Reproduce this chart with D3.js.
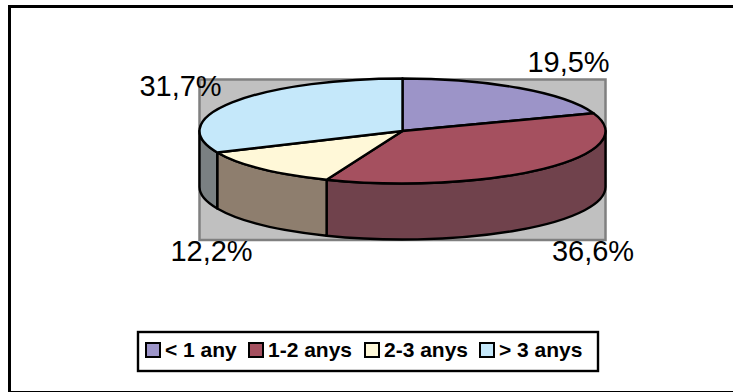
<!DOCTYPE html>
<html><head><meta charset="utf-8">
<script src="https://cdn.jsdelivr.net/npm/d3@7"></script>
<style>html,body{margin:0;padding:0;background:#fff}svg{display:block}text{font-family:"Liberation Sans",Arial,sans-serif}</style>
</head><body><svg id="c" width="733" height="392"></svg>
<script>
const categories = ["< 1 any","1-2 anys","2-3 anys","> 3 anys"];
const values = [19.5,36.6,12.2,31.7];
const labels = ["19,5%","36,6%","12,2%","31,7%"];
const topColors = ["#9C94C8","#A5505F","#FFF8D8","#C5E8FA"];
const sideColors = ["#6E6A8C","#70424C","#8E7E6E","#7A8082"];

const W=733,H=392, cx=402.5, cy=131, rx=203, ry=52.5, depth=56;
const svg=d3.select("#c");
svg.append("rect").attr("x",9.5).attr("y",6.5).attr("width",W).attr("height",386).attr("fill","#fff").attr("stroke","#000").attr("stroke-width",3);
svg.append("rect").attr("x",199.5).attr("y",79.5).attr("width",406).attr("height",160.5).attr("fill","#C0C0C0").attr("stroke","#808080").attr("stroke-width",2.5);

const pie=d3.pie().sort(null).value(d=>d);
const arcs=pie(values);
const pt=(a,dy=0)=>[cx+rx*Math.sin(a),cy-ry*Math.cos(a)+dy];

// side walls: only the front half of the ellipse (90deg..270deg)
const side=svg.append("g");
arcs.forEach((d,i)=>{
  const a0=Math.max(d.startAngle,Math.PI/2), a1=Math.min(d.endAngle,3*Math.PI/2);
  if(a1<=a0) return;
  const [x0,y0]=pt(a0),[x1,y1]=pt(a1);
  const p=`M${x0},${y0}A${rx},${ry} 0 0 1 ${x1},${y1}L${x1},${y1+depth}A${rx},${ry} 0 0 0 ${x0},${y0+depth}Z`;
  side.append("path").attr("d",p).attr("fill",sideColors[i]).attr("stroke","#000").attr("stroke-width",2.4).attr("stroke-linejoin","round");
});

// top face: d3.arc on a circle, flattened into an ellipse
const arcGen=d3.arc().innerRadius(0).outerRadius(rx);
svg.append("g").attr("transform",`translate(${cx},${cy}) scale(1,${ry/rx})`)
  .selectAll("path").data(arcs).join("path")
  .attr("d",arcGen).attr("fill",(d,i)=>topColors[i])
  .attr("stroke","#000").attr("stroke-width",2.4).attr("vector-effect","non-scaling-stroke").attr("stroke-linejoin","round");

const labelPos=[[568.5,72],[593,261],[211.5,261],[180.5,96]];
svg.append("g").selectAll("text").data(labels).join("text")
  .attr("x",(d,i)=>labelPos[i][0]).attr("y",(d,i)=>labelPos[i][1])
  .attr("text-anchor","middle").attr("font-size",29).attr("fill","#000").text(d=>d);

// legend
svg.append("rect").attr("x",138).attr("y",332).attr("width",460).attr("height",39).attr("fill","#fff").attr("stroke","#000").attr("stroke-width",2.4);
const lx=[146,249,365,480];
const lg=svg.append("g").selectAll("g").data(categories).join("g").attr("transform",(d,i)=>`translate(${lx[i]},343)`);
lg.append("rect").attr("width",14).attr("height",14).attr("fill",(d,i)=>topColors[i]).attr("stroke","#000").attr("stroke-width",2);
lg.append("text").attr("x",19).attr("y",14).attr("font-size",21).attr("font-weight","bold").attr("fill","#000").text(d=>d);
</script></body></html>
